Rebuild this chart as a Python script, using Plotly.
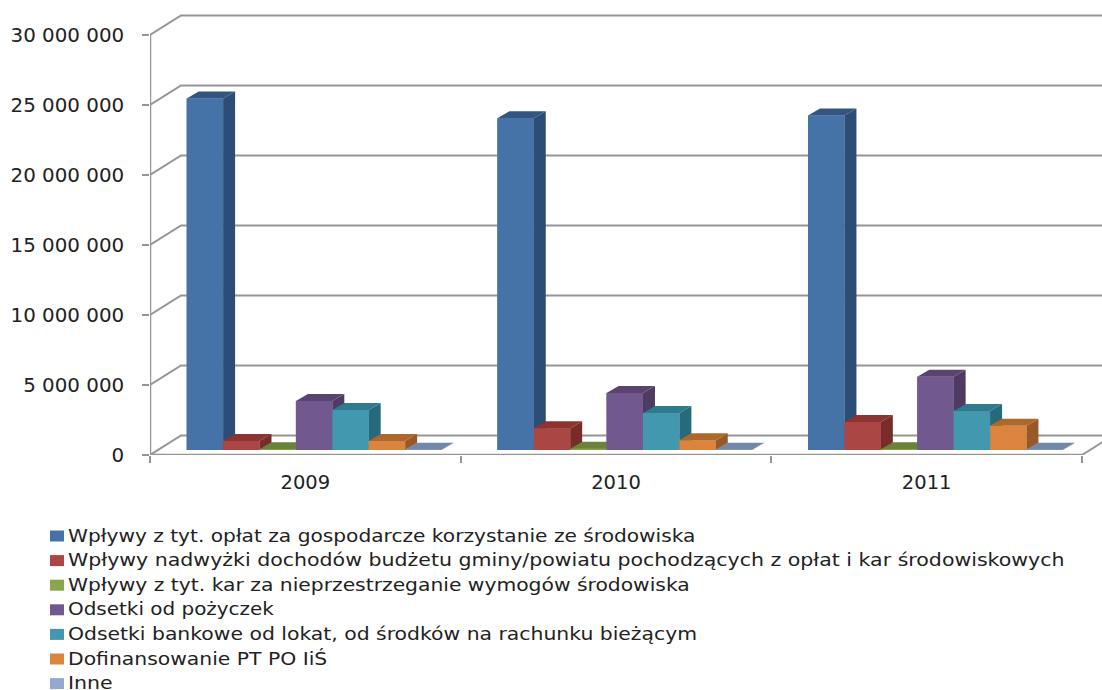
import plotly.graph_objects as go

years = ["2009", "2010", "2011"]
series = [
    "Wpływy z tyt. opłat za gospodarcze korzystanie ze środowiska",
    "Wpływy nadwyżki dochodów budżetu gminy/powiatu pochodzących z opłat i kar środowiskowych",
    "Wpływy z tyt. kar za nieprzestrzeganie wymogów środowiska",
    "Odsetki od pożyczek",
    "Odsetki bankowe od lokat, od środków na rachunku bieżącym",
    "Dofinansowanie PT PO IiŚ",
    "Inne",
]
oplaty = [25100000, 23700000, 23900000]
nadwyzki = [640000, 1550000, 2000000]
kary = [50000, 90000, 50000]
pozyczki = [3500000, 4070000, 5240000]
lokaty = [2860000, 2640000, 2790000]
dofinansowanie = [640000, 700000, 1740000]
inne = [20000, 20000, 20000]
values = [oplaty, nadwyzki, kary, pozyczki, lokaty, dofinansowanie, inne]

front = ["#4572A7", "#AA4643", "#89A54E", "#71588F", "#4198AF", "#DB843D", "#93A9CF"]
side = ["#2C4D75", "#772C2A", "#5F7530", "#4D3B62", "#276A7C", "#975A26", "#667A9C"]
top = ["#34557F", "#8B3431", "#6A8239", "#59446F", "#2F7A8E", "#AD682D", "#7188AB"]
GRID = "#969696"
INK = "#222222"
ticks_v = [0, 5000000, 10000000, 15000000, 20000000, 25000000, 30000000]
ticks_t = ["0", "5 000 000", "10 000 000", "15 000 000", "20 000 000", "25 000 000", "30 000 000"]

W, H = 1102, 690
L, B = 150, 235
PX_X = 310.67          # pixels per category
PX_Y = 14 / 1e6        # pixels per unit
xpx = lambda p: p / PX_X
ypx = lambda p: p / PX_Y
wall_x, wall_y = xpx(31), ypx(19.5)
depth_x, depth_y = xpx(12), ypx(7)
base = ypx(5)
bar_w = xpx(36.4)
start = xpx(36.7)

fig = go.Figure()


def poly(xs, ys, color):
    fig.add_trace(go.Scatter(x=xs, y=ys, fill="toself", fillcolor=color, mode="none",
                             hoverinfo="skip", showlegend=False))


# walls and floor
gx, gy = [], []
for v in ticks_v:
    gx += [0, wall_x, 3 + wall_x, None]
    gy += [v, v + wall_y, v + wall_y, None]
gx += [3, 3 + wall_x]
gy += [0, wall_y]
fig.add_trace(go.Scatter(x=gx, y=gy, mode="lines", line=dict(color=GRID, width=2),
                         hoverinfo="skip", showlegend=False))
for xs, ys in [([0, 3], [0, 0]), ([0, 0], [0, 30000000])]:
    fig.add_trace(go.Scatter(x=xs, y=ys, mode="lines", line=dict(color=GRID, width=2.5),
                             cliponaxis=False, hoverinfo="skip", showlegend=False))

# bars carrying the data
for s, name in enumerate(series):
    fig.add_trace(go.Bar(x=[c + start + (s + .5) * bar_w for c in range(3)], y=values[s],
                         base=[base] * 3, width=bar_w, name=name, showlegend=False,
                         marker=dict(color=front[s], line=dict(width=0))))

# depth faces, painted from back-left to front-right
for c in range(3):
    for s in range(len(series)):
        v = values[s][c]
        x0 = c + start + s * bar_w
        x1 = x0 + bar_w
        y0, y1 = base, base + v
        poly([x1, x1 + depth_x, x1 + depth_x, x1, x1],
             [y0, y0 + depth_y, y1 + depth_y, y1, y0], side[s])
        poly([x0, x0 + depth_x, x1 + depth_x, x1, x0],
             [y1, y1 + depth_y, y1 + depth_y, y1, y1], top[s])
        poly([x0, x1, x1, x0, x0], [y0, y0, y1, y1, y0], front[s])

# legend rows
PW, PH = W - L, H - B
LEG_Y0, LEG_DY = 536, 24.6
annotations, shapes = [], []
for s, name in enumerate(series):
    cy = LEG_Y0 + s * LEG_DY
    shapes.append(dict(type="rect", xref="paper", yref="paper", line=dict(width=0),
                       fillcolor=front[s], x0=(50 - L) / PW, x1=(64 - L) / PW,
                       y0=(PH - cy - 5.5) / PH, y1=(PH - cy + 5.5) / PH))
    annotations.append(dict(text=name, xref="paper", yref="paper", showarrow=False,
                            x=(66 - L) / PW, y=(PH - cy + 1) / PH, xanchor="left", yanchor="middle",
                            align="left", font=dict(size=18, color=INK)))

fig.update_layout(
    width=W, height=H, barmode="overlay", plot_bgcolor="white", paper_bgcolor="white",
    margin=dict(l=L, r=0, t=0, b=B, autoexpand=False),
    font=dict(family="DejaVu Sans", color=INK),
    showlegend=False, annotations=annotations, shapes=shapes,
    xaxis=dict(range=[0, (W - L) / PX_X], showgrid=False, zeroline=False, showline=False,
               tickmode="array", tickvals=[0.5, 1.5, 2.5], ticktext=years,
               ticks="outside", ticklen=10, tickcolor="rgba(0,0,0,0)",
               tickfont=dict(size=19.5),
               minor=dict(tickmode="array", tickvals=[0, 1, 2, 3], ticks="outside",
                          ticklen=7, tickwidth=2, tickcolor=GRID, showgrid=False)),
    yaxis=dict(range=[0, (H - B) / PX_Y], showgrid=False, zeroline=False, showline=False,
               tickmode="array", tickvals=ticks_v, ticktext=ticks_t,
               ticks="outside", ticklen=7, tickwidth=2, tickcolor=GRID,
               ticklabelstandoff=14, tickfont=dict(size=19)),
)
LEGEND_STRETCH = [1.12, 1.14, 1.127, 1.108, 1.131, 1.13, 1.14]
TICK_STRETCH = 1.045
fig.write_html("out.html", config=dict(displayModeBar=False), post_script=(
    "document.body.style.margin='0';"
    "function st(t,k){t.setAttribute('lengthAdjust','spacingAndGlyphs');"
    "t.setAttribute('textLength',t.getComputedTextLength()*k);}"
    "var k=%s;"
    "document.querySelectorAll('.annotation-text').forEach(function(t,i){st(t,k[i]);});"
    "document.querySelectorAll('.ytick text').forEach(function(t){st(t,%s);});"
    % (LEGEND_STRETCH, TICK_STRETCH)))
